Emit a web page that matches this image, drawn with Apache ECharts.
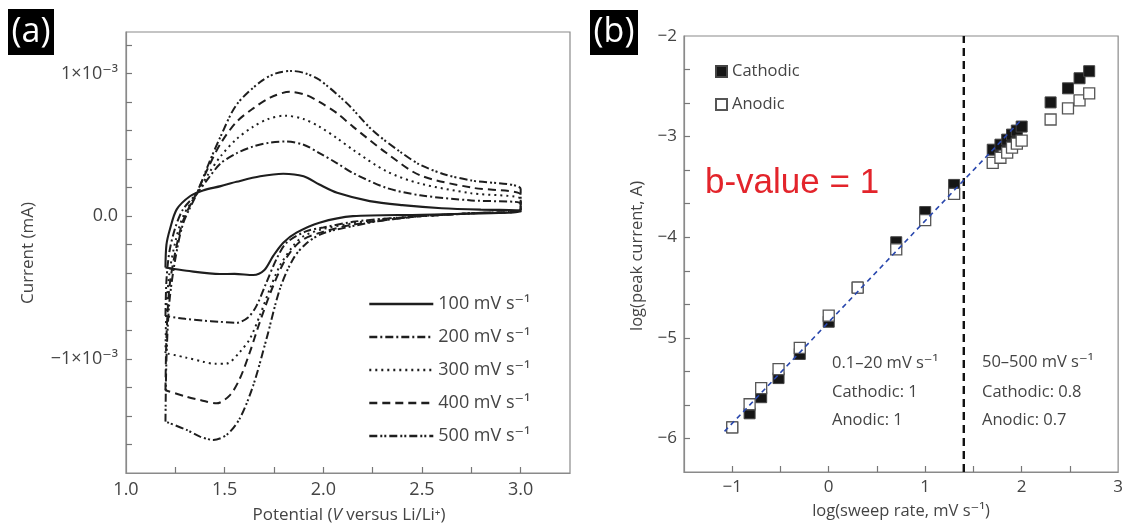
<!DOCTYPE html>
<html>
<head>
<meta charset="utf-8">
<title>Cyclic voltammetry and b-value analysis</title>
<script src="https://cdn.jsdelivr.net/npm/echarts@6/dist/echarts.min.js"></script>
<style>
  html, body { margin: 0; padding: 0; background: #fff; }
  #chart { width: 1126px; height: 523px; }
</style>
</head>
<body>
<div id="chart"></div>
<script>
// ---- Panel (a): cyclic voltammograms, [potential V, current ×10⁻³] ----
const rateLabels = ['100 mV s⁻¹', '200 mV s⁻¹', '300 mV s⁻¹', '400 mV s⁻¹', '500 mV s⁻¹'];

const cv100 = [[1.20,-0.36],[1.205,-0.20],[1.223,-0.09],[1.257,0.047],[1.324,0.139],[1.39,0.18],[1.48,0.21],[1.56,0.24],[1.68,0.279],[1.797,0.297],[1.90,0.279],[1.98,0.221],[2.07,0.163],[2.235,0.105],[2.40,0.077],[2.60,0.055],[2.80,0.045],[3.00,0.04],
  [3.00,0.03],[2.50,0.01],[2.15,0.0],[1.98,-0.046],[1.864,-0.116],[1.797,-0.186],[1.746,-0.279],[1.70,-0.38],[1.645,-0.413],[1.55,-0.405],[1.476,-0.406],[1.307,-0.383],[1.20,-0.36]];
const cv200 = [[1.20,-0.70],[1.205,-0.45],[1.22,-0.25],[1.25,-0.08],[1.29,0.05],[1.36,0.16],[1.42,0.27],[1.48,0.37],[1.56,0.44],[1.645,0.488],[1.73,0.515],[1.81,0.523],[1.90,0.50],[1.98,0.442],[2.07,0.37],[2.15,0.302],[2.32,0.198],[2.49,0.146],[2.75,0.11],[3.00,0.09],
  [3.00,0.04],[2.75,0.02],[2.50,0.0],[2.30,-0.02],[2.15,-0.04],[2.00,-0.08],[1.915,-0.105],[1.814,-0.186],[1.763,-0.30],[1.712,-0.464],[1.662,-0.627],[1.62,-0.708],[1.56,-0.748],[1.47,-0.74],[1.39,-0.732],[1.30,-0.72],[1.20,-0.70]];
const cv300 = [[1.20,-0.96],[1.205,-0.65],[1.22,-0.40],[1.25,-0.18],[1.29,0.0],[1.36,0.16],[1.42,0.30],[1.48,0.42],[1.56,0.54],[1.645,0.627],[1.72,0.68],[1.805,0.704],[1.90,0.68],[1.98,0.627],[2.07,0.545],[2.15,0.465],[2.32,0.314],[2.49,0.228],[2.75,0.16],[3.00,0.12],
  [3.00,0.04],[2.75,0.02],[2.50,0.0],[2.30,-0.02],[2.15,-0.05],[2.00,-0.09],[1.90,-0.14],[1.847,-0.209],[1.78,-0.348],[1.729,-0.51],[1.678,-0.697],[1.628,-0.859],[1.577,-0.952],[1.51,-1.033],[1.45,-1.035],[1.39,-1.02],[1.30,-0.99],[1.20,-0.96]];
const cv400 = [[1.20,-1.22],[1.205,-0.85],[1.22,-0.50],[1.25,-0.25],[1.29,-0.03],[1.36,0.17],[1.42,0.35],[1.48,0.51],[1.56,0.66],[1.645,0.755],[1.73,0.83],[1.83,0.871],[1.91,0.85],[1.98,0.80],[2.07,0.72],[2.15,0.627],[2.32,0.442],[2.49,0.286],[2.75,0.20],[3.00,0.15],
  [3.00,0.05],[2.75,0.02],[2.50,0.0],[2.30,-0.03],[2.15,-0.06],[2.00,-0.11],[1.89,-0.17],[1.814,-0.29],[1.746,-0.488],[1.678,-0.743],[1.628,-0.952],[1.577,-1.138],[1.527,-1.254],[1.459,-1.312],[1.38,-1.29],[1.307,-1.266],[1.20,-1.22]];
const cv500 = [[1.20,-1.44],[1.205,-1.0],[1.22,-0.60],[1.25,-0.30],[1.29,-0.05],[1.36,0.16],[1.42,0.37],[1.48,0.56],[1.56,0.78],[1.68,0.94],[1.76,1.0],[1.84,1.017],[1.91,1.0],[1.98,0.955],[2.12,0.79],[2.25,0.60],[2.39,0.45],[2.49,0.36],[2.62,0.29],[2.75,0.25],[3.00,0.19],
  [3.00,0.05],[2.75,0.02],[2.50,0.0],[2.30,-0.03],[2.15,-0.07],[2.00,-0.12],[1.915,-0.19],[1.847,-0.30],[1.78,-0.51],[1.712,-0.86],[1.645,-1.185],[1.577,-1.417],[1.51,-1.533],[1.442,-1.568],[1.375,-1.545],[1.307,-1.498],[1.20,-1.44]];

const potentialTicks = [1.25, 1.5, 1.75, 2.0, 2.25, 2.5, 2.75, 3.0];
const potentialLabels = [1.0, 1.5, 2.0, 2.5, 3.0];
const currentTicks = [-1.6, -1.4, -1.2, -1.0, -0.8, -0.6, -0.4, -0.2, 0, 0.2, 0.4, 0.6, 0.8, 1.0, 1.2];
const currentLabels = [-1, 0, 1];

// ---- Panel (b): log peak current vs log sweep rate ----
const logRate = [-1, -0.82, -0.70, -0.52, -0.30, 0, 0.30, 0.70, 1.0, 1.30, 1.70, 1.78, 1.85, 1.90, 1.95, 2.0, 2.30, 2.48, 2.60, 2.70];
const logCathodic = [-5.89, -5.75, -5.59, -5.40, -5.16, -4.84, -4.50, -4.05, -3.75, -3.48, -3.13, -3.08, -3.03, -2.98, -2.94, -2.90, -2.66, -2.52, -2.42, -2.35];
const logAnodic = [-5.89, -5.66, -5.50, -5.31, -5.10, -4.78, -4.50, -4.12, -3.83, -3.57, -3.26, -3.21, -3.16, -3.11, -3.07, -3.04, -2.83, -2.72, -2.64, -2.57];
const fitX = [-1.08, 1.99];
const fitY = [-5.93, -2.84];
const regimeBoundary = 1.4;

const rateTicks = [-1, -0.5, 0, 0.5, 1, 1.5, 2, 2.5];
const rateLabelsB = [-1, 0, 1, 2, 3];
const peakTicks = [-6, -17/3, -16/3, -5, -14/3, -13/3, -4, -11/3, -10/3, -3, -8/3, -7/3];
const peakLabels = [-6, -5, -4, -3, -2];

const FONT = '"Open Sans", "DejaVu Sans", sans-serif';
const AXIS_GREY = '#8a8a8a';
const TEXT_GREY = '#444';

const zip = (xs, ys) => xs.map((x, i) => [x, ys[i]]);
const minus = v => (v < 0 ? '\u2212' + Math.abs(v) : String(v));

const dashStyles = [
  'solid',
  [8, 3, 2, 3],
  [2, 4],
  [8, 5],
  [8, 3, 2, 2, 2, 3]
];
const cvCurves = [cv100, cv200, cv300, cv400, cv500];

const cvSeries = cvCurves.map((curve, i) => ({
  name: rateLabels[i],
  type: 'line',
  xAxisIndex: 0,
  yAxisIndex: 0,
  data: curve,
  symbol: 'none',
  showSymbol: false,
  smooth: 0.3,
  lineStyle: { color: '#1e1e1e', width: i === 0 ? 2.1 : 2, type: dashStyles[i] },
  itemStyle: { color: '#1e1e1e' },
  z: 3
}));

const chart = echarts.init(document.getElementById('chart'), null, { renderer: 'canvas' });

function frameAxis(extra) {
  return Object.assign({
    type: 'value',
    axisLine: { show: true, onZero: false, lineStyle: { color: AXIS_GREY, width: 1.2 } },
    splitLine: { show: false }
  }, extra);
}

chart.setOption({
  animation: false,
  backgroundColor: '#fff',
  textStyle: { fontFamily: FONT },
  grid: [
    { left: 126, top: 32, width: 444, height: 441, show: true, borderColor: AXIS_GREY, borderWidth: 1.2, backgroundColor: 'transparent' },
    { left: 684, top: 36, width: 435, height: 436, show: true, borderColor: AXIS_GREY, borderWidth: 1.2, backgroundColor: 'transparent' }
  ],
  xAxis: [
    frameAxis({
      gridIndex: 0, min: 1.0, max: 3.25,
      axisTick: { show: true, inside: true, length: 6, customValues: potentialTicks, lineStyle: { color: '#777', width: 1.2 } },
      axisLabel: { customValues: potentialLabels, formatter: v => Number(v).toFixed(1), fontSize: 18, color: TEXT_GREY, margin: 8, fontFamily: FONT }
    }),
    frameAxis({
      gridIndex: 1, min: -1.5, max: 3,
      axisTick: { show: true, inside: true, length: 6, customValues: rateTicks, lineStyle: { color: '#777', width: 1.2 } },
      axisLabel: { customValues: rateLabelsB, formatter: v => minus(Math.round(v)), fontSize: 17, color: TEXT_GREY, margin: 7, fontFamily: FONT }
    })
  ],
  yAxis: [
    frameAxis({
      gridIndex: 0, min: -1.8, max: 1.29,
      axisTick: { show: true, inside: true, length: 6, customValues: currentTicks, lineStyle: { color: '#777', width: 1.2 } },
      axisLabel: {
        customValues: currentLabels,
        formatter: v => {
          const r = Math.round(v);
          if (r === 0) return '0.0';
          return (r < 0 ? '\u2212' : '') + '1×10⁻³';
        },
        fontSize: 18, color: TEXT_GREY, margin: 8, fontFamily: FONT
      }
    }),
    frameAxis({
      gridIndex: 1, min: -19/3, max: -2,
      axisTick: { show: true, inside: true, length: 6, customValues: peakTicks, lineStyle: { color: '#777', width: 1.2 } },
      axisLabel: { customValues: peakLabels, formatter: v => minus(Math.round(v)), fontSize: 17, color: TEXT_GREY, margin: 7, fontFamily: FONT }
    })
  ],
  legend: [
    {
      data: rateLabels,
      orient: 'vertical',
      left: 368, top: 295,
      padding: 0,
      itemWidth: 64, itemHeight: 14, itemGap: 15,
      itemStyle: { opacity: 0 },
      lineStyle: { width: 2.6 },
      textStyle: { fontSize: 18, color: TEXT_GREY, fontFamily: FONT },
      selectedMode: false
    },
    {
      data: ['Cathodic', 'Anodic'],
      orient: 'vertical',
      left: 715, top: 63,
      padding: 0,
      icon: 'rect',
      itemWidth: 11, itemHeight: 11, itemGap: 16,
      textStyle: { fontSize: 16.5, color: TEXT_GREY, fontFamily: FONT },
      selectedMode: false
    }
  ],
  series: [
    ...cvSeries,
    {
      name: 'boundary',
      type: 'line',
      xAxisIndex: 1, yAxisIndex: 1,
      data: [[regimeBoundary, -19/3], [regimeBoundary, -2]],
      symbol: 'none',
      lineStyle: { color: '#111', width: 2.4, type: [8, 5] },
      z: 2
    },
    {
      name: 'Cathodic',
      type: 'scatter',
      xAxisIndex: 1, yAxisIndex: 1,
      data: zip(logRate, logCathodic),
      symbol: 'rect',
      symbolSize: 11,
      itemStyle: { color: '#161616', borderColor: '#444', borderWidth: 1, opacity: 1 },
      z: 3
    },
    {
      name: 'Anodic',
      type: 'scatter',
      xAxisIndex: 1, yAxisIndex: 1,
      data: zip(logRate, logAnodic),
      symbol: 'rect',
      symbolSize: 11,
      itemStyle: { color: '#fff', borderColor: '#555', borderWidth: 1.3, opacity: 1 },
      z: 4
    },
    {
      name: 'fit',
      type: 'line',
      xAxisIndex: 1, yAxisIndex: 1,
      data: zip(fitX, fitY),
      symbol: 'none',
      lineStyle: { color: '#2947ad', width: 1.6, type: [5, 4] },
      z: 5
    }
  ],
  graphic: [
    { type: 'rect', shape: { x: 8, y: 9, width: 46, height: 46 }, style: { fill: '#000' } },
    { type: 'text', x: 31, y: 32, style: { text: '(a)', fill: '#fff', font: '34px ' + FONT, align: 'center', verticalAlign: 'middle', textAlign: 'center', textVerticalAlign: 'middle' } },
    { type: 'rect', shape: { x: 590, y: 10, width: 48, height: 45 }, style: { fill: '#000' } },
    { type: 'text', x: 614, y: 32, style: { text: '(b)', fill: '#fff', font: '34px ' + FONT, align: 'center', verticalAlign: 'middle', textAlign: 'center', textVerticalAlign: 'middle' } },

    { type: 'text', x: 28, y: 253, rotation: Math.PI / 2, style: { text: 'Current (mA)', fill: TEXT_GREY, font: '17px ' + FONT, align: 'center', verticalAlign: 'middle', textAlign: 'center', textVerticalAlign: 'middle' } },
    { type: 'text', x: 349, y: 515, style: {
        text: '{n|Potential (}{i|V}{n| versus Li/Li⁺)}',
        align: 'center', verticalAlign: 'middle', textAlign: 'center', textVerticalAlign: 'middle',
        rich: {
          n: { fontSize: 17, fontFamily: FONT, fill: TEXT_GREY, color: TEXT_GREY },
          i: { fontSize: 17, fontFamily: FONT, fontStyle: 'italic', fill: TEXT_GREY, color: TEXT_GREY }
        }
      } },
    { type: 'text', x: 637, y: 256, rotation: Math.PI / 2, style: { text: 'log(peak current, A)', fill: TEXT_GREY, font: '16.5px ' + FONT, align: 'center', verticalAlign: 'middle', textAlign: 'center', textVerticalAlign: 'middle' } },
    { type: 'text', x: 901, y: 511, style: { text: 'log(sweep rate, mV s⁻¹)', fill: TEXT_GREY, font: '16.5px ' + FONT, align: 'center', verticalAlign: 'middle', textAlign: 'center', textVerticalAlign: 'middle' } },

    { type: 'text', x: 705, y: 183, style: { text: 'b-value = 1', fill: '#e3242b', font: '35px "Liberation Sans", Arial, sans-serif', align: 'left', verticalAlign: 'middle', textAlign: 'left', textVerticalAlign: 'middle' } },

    { type: 'text', x: 832, y: 363, style: { text: '0.1–20 mV s⁻¹', fill: TEXT_GREY, font: '16.5px ' + FONT, align: 'left', verticalAlign: 'middle', textAlign: 'left', textVerticalAlign: 'middle' } },
    { type: 'text', x: 832, y: 392, style: { text: 'Cathodic: 1', fill: TEXT_GREY, font: '16.5px ' + FONT, align: 'left', verticalAlign: 'middle', textAlign: 'left', textVerticalAlign: 'middle' } },
    { type: 'text', x: 832, y: 420, style: { text: 'Anodic: 1', fill: TEXT_GREY, font: '16.5px ' + FONT, align: 'left', verticalAlign: 'middle', textAlign: 'left', textVerticalAlign: 'middle' } },
    { type: 'text', x: 982, y: 362, style: { text: '50–500 mV s⁻¹', fill: TEXT_GREY, font: '16.5px ' + FONT, align: 'left', verticalAlign: 'middle', textAlign: 'left', textVerticalAlign: 'middle' } },
    { type: 'text', x: 982, y: 392, style: { text: 'Cathodic: 0.8', fill: TEXT_GREY, font: '16.5px ' + FONT, align: 'left', verticalAlign: 'middle', textAlign: 'left', textVerticalAlign: 'middle' } },
    { type: 'text', x: 982, y: 420, style: { text: 'Anodic: 0.7', fill: TEXT_GREY, font: '16.5px ' + FONT, align: 'left', verticalAlign: 'middle', textAlign: 'left', textVerticalAlign: 'middle' } }
  ]
});
</script>
</body>
</html>
